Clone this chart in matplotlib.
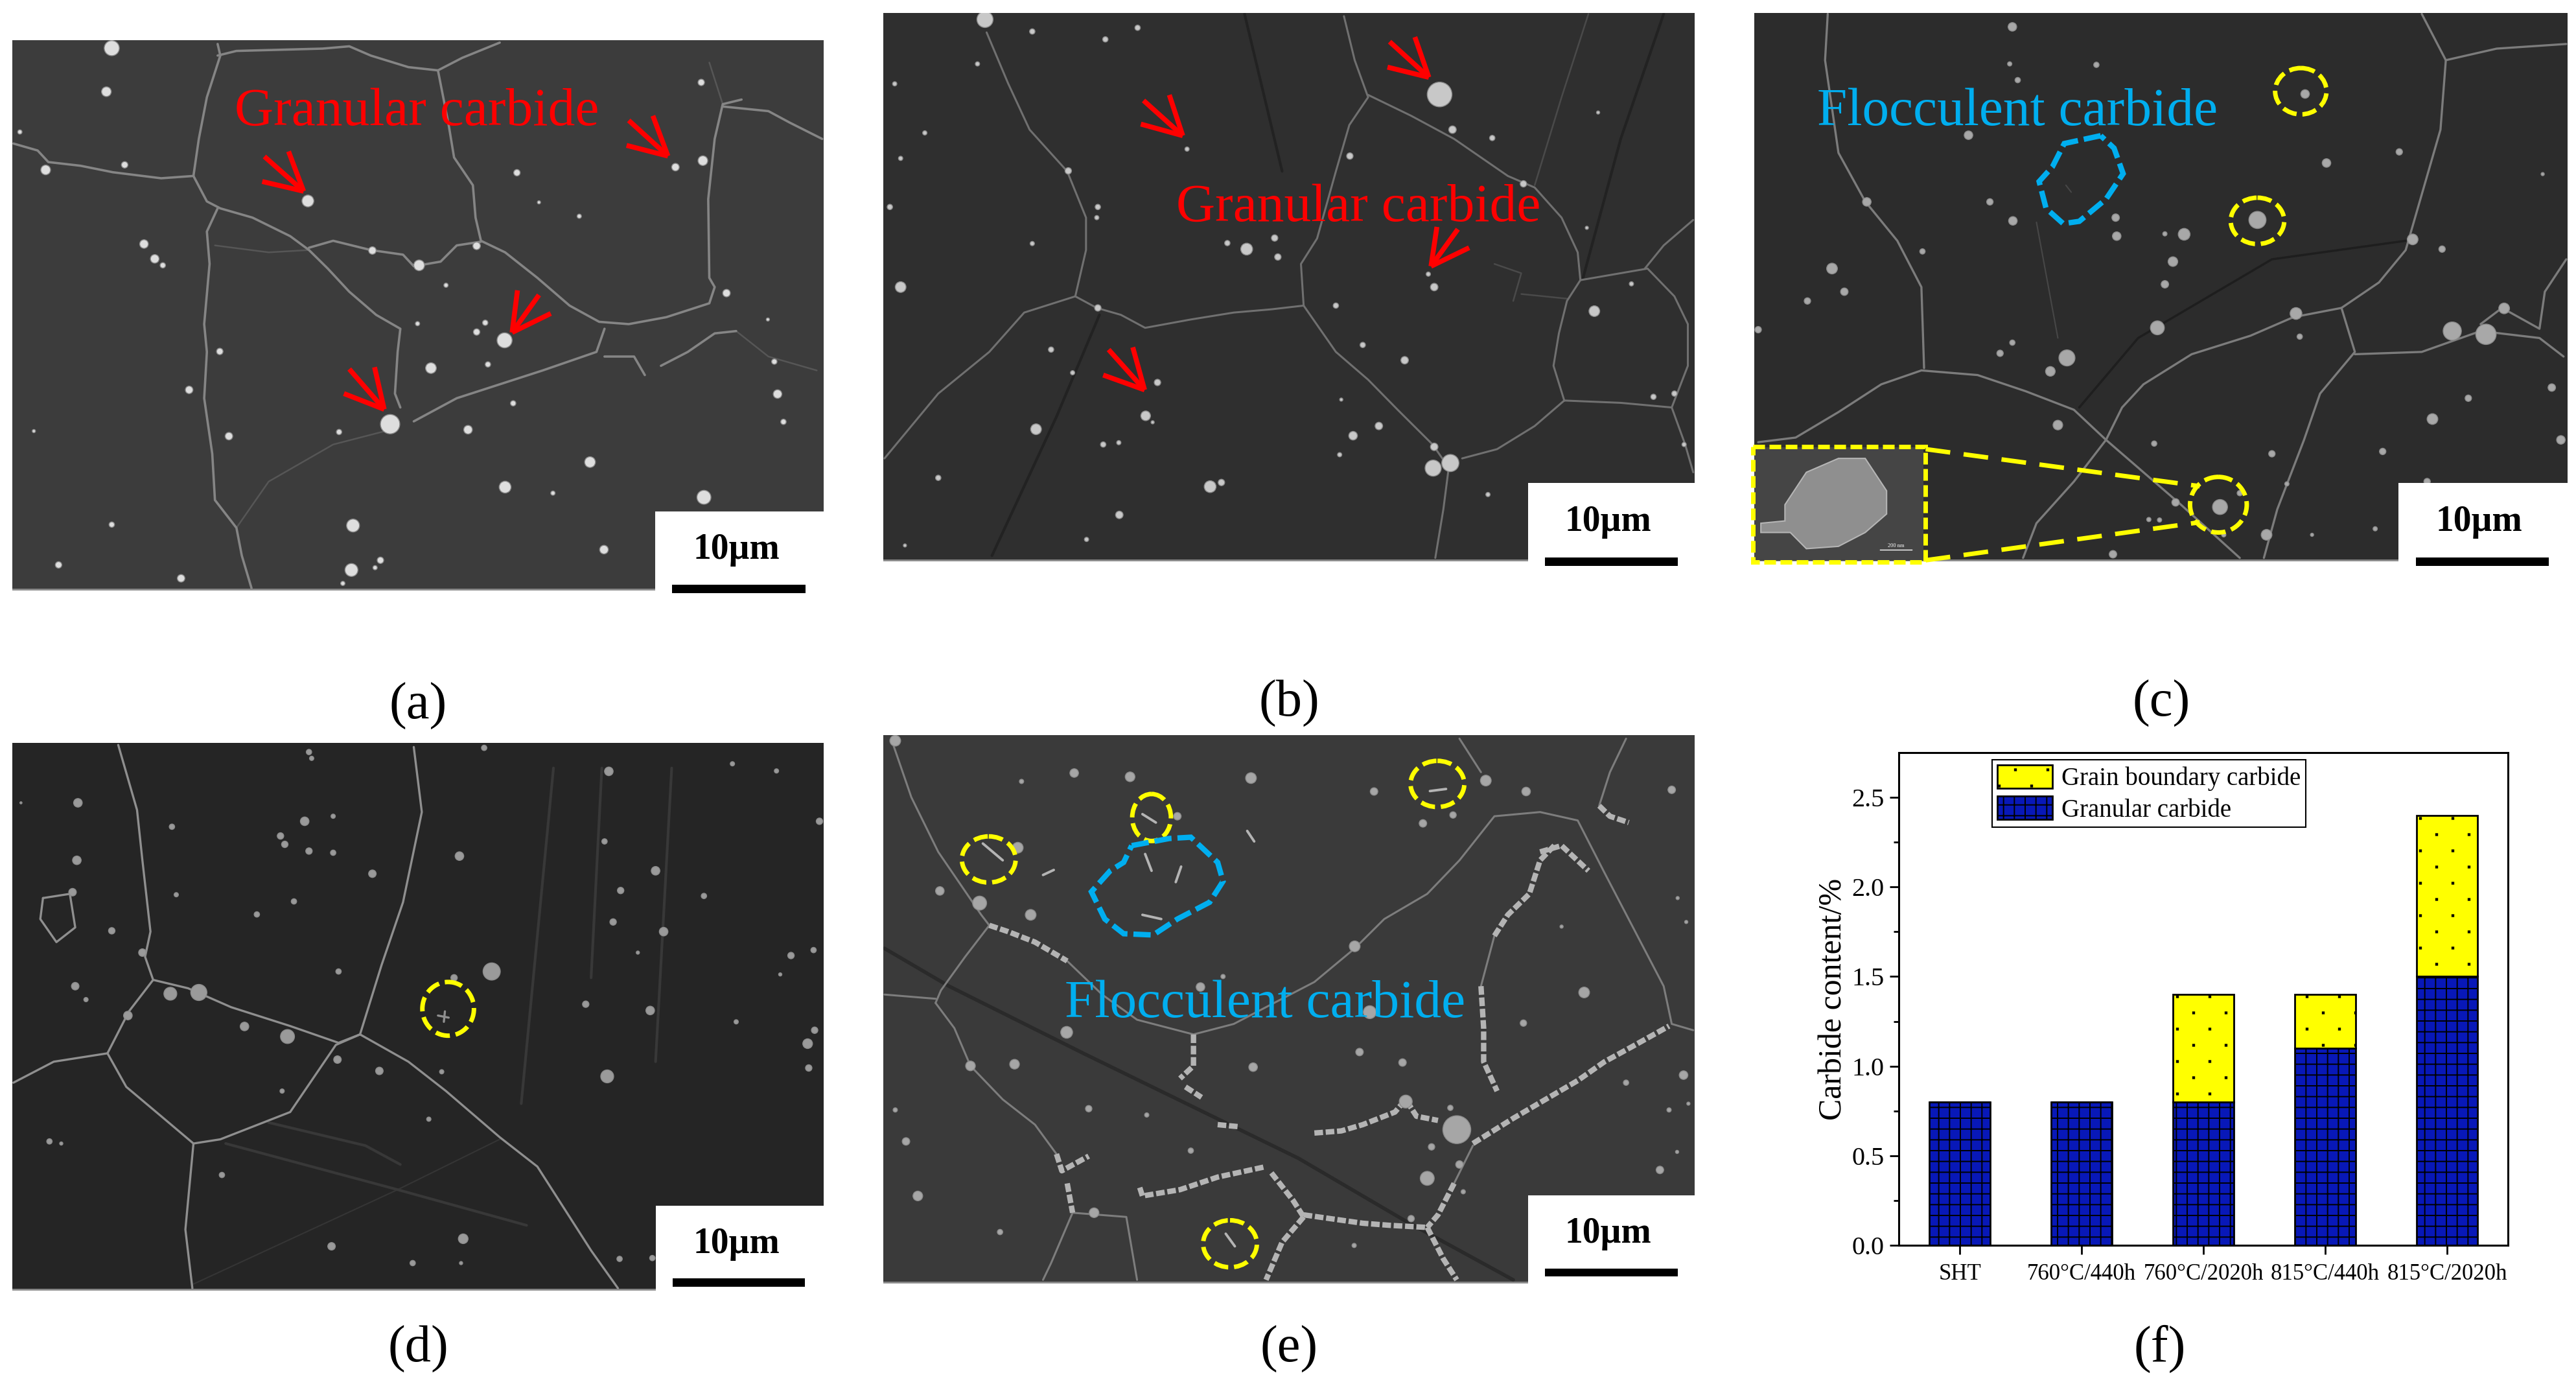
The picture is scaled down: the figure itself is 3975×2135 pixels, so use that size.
import matplotlib
matplotlib.use("Agg")
import numpy as np
import matplotlib.pyplot as plt
import matplotlib.hatch as mhatch
from matplotlib.path import Path
from matplotlib.patches import Rectangle, Ellipse, Polygon, Patch

plt.rcParams["font.family"] = ["Liberation Serif", "DejaVu Serif"]
plt.rcParams["hatch.linewidth"] = 1.4

W, H = 3975, 2135
DPI = 100

# bar chart (f)
conditions = ["SHT", "760°C/440h", "760°C/2020h", "815°C/440h", "815°C/2020h"]
granular = [0.8, 0.8, 0.8, 1.1, 1.5]
grain_boundary = [0.0, 0.0, 0.6, 0.3, 0.9]
y_ticks = [0.0, 0.5, 1.0, 1.5, 2.0, 2.5]

# micrograph traces. (x, y) or (x, y, radius), picture units
a_bright = [
    [(25,310),(70,325),(90,350),(150,358),(210,372),(300,385),(360,380),(385,435),(410,450),(470,470),(540,510),(575,540),(610,580),(650,630),(700,680),(745,710),(740,760),(735,850),(745,880)],
    [(405,95),(410,120),(385,210),(370,300),(360,380)],
    [(405,120),(440,110),(600,105),(650,100),(690,120),(760,145),(815,152),(860,125),(930,92)],
    [(815,152),(835,270),(845,340),(880,400),(885,470),(895,520),(940,545),(1000,600),(1060,660),(1115,695),(1170,700),(1240,685),(1320,655),(1330,620),(1320,600),(1318,430),(1330,300),(1345,225),(1380,215)],
    [(1345,230),(1430,240),(1470,265),(1530,300)],
    [(575,535),(620,520),(690,540),(750,550),(770,575),(820,565),(850,530),(895,522)],
    [(405,450),(385,500),(390,570),(380,700),(385,760),(380,860),(395,980),(400,1080),(440,1140),(450,1200),(468,1270)],
    [(770,910),(850,860),(930,830),(1010,800),(1110,760),(1125,710)],
    [(1125,770),(1180,770),(1200,810)],
    [(1230,790),(1280,760),(1330,720),(1370,715)],
]
a_faint = [
    [(1320,135),(1345,225)],
    [(1370,715),(1430,770),(1520,800)],
    [(400,530),(500,545),(575,540)],
    [(440,1140),(500,1040),(620,960),(720,930)],
]
a_particles = [
    (208,104,14),(198,198,9),(85,367,9),(232,356,6),(37,285,4),(573,434,11),(1257,361,7),(1308,347,9),(1305,178,6),
    (962,373,6),(1003,437,3),(1078,467,4),(268,527,8),(288,559,8),(303,573,5),(780,573,10),(693,541,7),(887,531,7),
    (830,616,4),(903,697,5),(887,717,6),(939,735,14),(908,787,5),(802,795,10),(777,699,4),(409,759,6),(352,842,7),
    (426,942,7),(63,931,3),(631,933,5),(726,916,18),(871,928,8),(955,871,5),(1098,998,10),(940,1052,11),(1029,1065,4),
    (1310,1074,13),(1447,851,8),(1458,911,5),(1441,781,5),(1429,690,3),(1352,633,7),(657,1135,12),(654,1231,12),
    (708,1210,6),(698,1226,4),(1124,1187,8),(208,1133,5),(109,1220,6),(337,1249,7),(638,1260,4),
]
# tip, tail, barb, barb
a_arrows = [
    [(565,413),(492,338),(537,327),(488,392)],
    [(1243,337),(1170,260),(1215,250),(1166,314)],
    [(953,718),(1003,637),(963,627),(1025,677)],
    [(715,884),(650,797),(697,793),(640,850)],
]

b_bright = [
    [(220,70),(260,180),(300,280),(370,370),(405,470),(405,540),(385,640),(425,665),(470,680),(515,708),(600,690),(680,675),(750,668),(810,660),(805,570),(835,515),(870,370),(895,270),(930,210),(905,130),(885,35)],
    [(930,205),(1010,250),(1090,300),(1190,380),(1240,405),(1290,470),(1320,545),(1325,605)],
    [(810,660),(870,760),(930,820),(985,885),(1050,960),(1080,1010),(1070,1100),(1055,1205)],
    [(1105,990),(1170,970),(1240,920),(1295,865),(1275,790),(1285,720),(1300,650),(1325,605),(1450,580),(1500,640),(1525,700),(1525,790),(1495,880),(1400,870),(1295,865)],
    [(385,640),(290,675),(225,760),(130,850),(80,920),(30,990)],
    [(1445,580),(1480,530),(1535,475)],
    [(1495,880),(1520,960),(1535,1020)],
]
b_faint = [
    [(1165,570),(1215,590),(1200,650)],
    [(1215,635),(1300,645)],
    [(1340,30),(1290,210),(1240,400)],
]
b_dark = [
    [(1480,30),(1400,300),(1330,600)],
    [(700,30),(770,370)],
    [(430,680),(350,900),(230,1200)],
]
b_particles = [
    (217,42,15),(305,68,5),(441,85,5),(501,60,5),(203,138,4),(49,181,4),(105,287,4),(60,342,4),(372,369,6),(40,447,5),
    (427,447,5),(425,470,4),(305,526,4),(60,620,10),(593,322,4),(704,538,11),(756,514,6),(762,555,6),(668,525,5),
    (1063,204,23),(1087,280,7),(1161,298,5),(896,337,6),(1219,397,6),(1042,592,4),(1053,620,7),(870,660,5),(920,745,5),
    (998,778,7),(1351,672,10),(1358,243,3),(1337,492,3),(427,665,6),(340,755,5),(380,805,4),(538,826,6),(516,898,9),
    (529,912,3),(312,927,10),(437,960,5),(466,956,4),(902,941,8),(950,920,7),(880,863,3),(877,982,4),(1051,1011,15),
    (1083,1000,16),(1053,965,7),(636,1051,11),(657,1042,6),(130,1032,5),(467,1112,7),(406,1165,4),(68,1178,3),
    (1153,1068,4),(1461,857,5),(1500,850,5),(1518,960,4),(1420,613,4),
]
b_arrows = [
    [(585,293),(512,217),(560,205),(507,268)],
    [(1043,167),(970,90),(1017,80),(966,145)],
    [(1047,575),(1097,495),(1058,490),(1118,535)],
    [(514,842),(447,755),(492,750),(437,810)],
]

c_bright = [
    [(170,30),(165,130),(190,330),(240,435),(300,520),(345,620),(350,795)],
    [(345,800),(270,830),(190,890),(110,945),(40,955)],
    [(345,800),(450,810),(540,845),(630,885),(690,950),(760,1020),(830,1090),(940,1205)],
    [(690,950),(630,1040),(560,1130),(535,1205)],
    [(690,950),(720,880),(760,830),(850,765),(960,725),(1040,685),(1130,665),(1200,610),(1250,540),(1285,400),(1315,280),(1325,130),(1280,30)],
    [(1325,130),(1420,105),(1550,95)],
    [(1130,665),(1155,760),(1090,850),(1060,950),(1010,1100),(985,1205)],
    [(1155,765),(1280,760),(1390,715),(1500,730),(1545,770)],
    [(1390,700),(1430,665),(1500,710),(1510,630),(1550,560)],
]
c_faint = [[(560,480),(600,730)], [(615,400),(625,415)]]
c_dark = [[(640,880),(750,730),(1000,560),(1250,520)]]
c_particles = [
    (515,58,8),(672,140,5),(525,173,5),(510,138,4),(1062,203,8),(433,292,8),(1102,352,8),(973,475,16),(1238,328,6),
    (1506,376,3),(243,436,8),(473,436,6),(516,477,8),(708,470,7),(710,510,8),(836,506,11),(800,505,4),(815,565,9),
    (800,614,7),(1263,517,10),(1318,538,6),(178,580,10),(201,630,7),(132,650,6),(347,543,5),(40,712,6),(786,708,13),
    (515,740,5),(492,763,6),(617,773,15),(586,802,9),(1045,677,11),(1337,715,17),(1400,722,19),(1434,666,10),(1052,727,5),
    (1523,837,7),(1367,860,6),(1300,905,10),(600,918,9),(780,958,5),(1000,980,6),(1207,975,6),(1540,950,8),(903,1095,14),
    (940,1065,5),(770,1122,4),(790,1123,4),(703,1197,7),(1290,1040,6),(1028,1045,4),(1193,1142,4),(1075,1155,3),
    (990,1155,10),(820,1085,7),(910,1155,4),
]
c_circles = [(1054,197,48,50),(973,477,50,50),(900,1090,53,60)]
c_region = [(680,293),(612,310),(590,360),(565,392),(578,450),(610,483),(640,478),(690,430),(722,375),(705,320)]
c_inset_blob = [(90,1090),(130,1020),(190,990),(240,990),(280,1060),(280,1110),(240,1150),(190,1180),(130,1185),(100,1150),(45,1150),(45,1130),(90,1125)]
c_zoom_lines = [[(353,970),(865,1050)],[(353,1210),(865,1128)]]

d_bright = [
    [(220,45),(255,200),(265,320),(280,490),(270,550),(285,605),(240,680),(200,780)],
    [(25,850),(100,800),(200,780),(235,860),(300,930),(360,995),(410,985),(500,940),(540,920),(625,760),(670,735)],
    [(285,605),(350,625),(430,670),(540,715),(630,755),(670,735),(710,570),(750,420),(785,205),(770,50)],
    [(670,735),(760,800),(830,870),(930,980),(1000,1050),(1060,1170),(1100,1250),(1150,1340)],
    [(360,995),(345,1200),(358,1340)],
    [(80,410),(130,400),(140,480),(105,515),(75,460),(80,410)],
    [(815,690),(835,695)],
    [(828,680),(826,705)],
]
d_faint = [
    [(420,995),(740,1105),(980,1190)],
    [(1030,100),(1000,500),(970,900)],
    [(1120,100),(1100,600)],
    [(1250,100),(1220,800)],
    [(500,945),(680,1000),(745,1045)],
]
d_dark = [[(740,1105),(930,985)],[(740,1105),(360,1330)]]
d_particles = [
    (145,183,8),(143,320,8),(135,396,7),(208,488,6),(265,540,7),(39,183,2),(320,240,5),(567,227,8),(620,215,4),(522,262,6),
    (530,282,6),(575,298,6),(620,302,5),(693,352,7),(547,418,5),(478,449,5),(328,402,4),(855,310,8),(1133,108,8),(1125,275,5),
    (1220,345,8),(1155,392,6),(1141,467,6),(1235,490,8),(1310,405,5),(1363,90,4),(1445,107,4),(1525,227,6),(1187,540,3),
    (1472,547,6),(1514,534,5),(1452,592,3),(630,585,5),(915,585,16),(845,600,6),(370,635,15),(317,638,12),(140,620,7),
    (160,652,4),(238,690,8),(455,716,8),(535,740,13),(628,795,7),(706,822,7),(822,824,4),(525,870,4),(798,937,4),(1090,663,6),
    (1210,678,8),(1370,705,4),(1516,725,6),(1503,757,9),(1505,815,6),(1130,835,12),(92,990,5),(114,995,3),(413,1070,5),
    (617,1240,7),(768,1280,5),(862,1222,9),(858,1280,3),(1153,1270,5),(1214,1268,5),(901,52,5),(575,62,5),(580,77,4),
]
d_circles = [(834,674,48,64)]

e_thick = [
    [(225,475),(260,490),(310,515),(370,560)],
    [(1165,500),(1190,450),(1230,400),(1250,320),(1280,280)],
    [(1360,190),(1380,215),(1415,230)],
    [(1125,995),(1200,935),(1240,905),(1320,845),(1370,800),(1420,765),(1490,715)],
    [(1140,620),(1145,720),(1145,800),(1170,870)],
    [(350,1020),(360,1060),(410,1025)],
    [(505,1100),(510,1120),(580,1105),(650,1075),(740,1050)],
    [(750,1065),(790,1130),(810,1170)],
    [(830,970),(880,965),(920,950),(980,920),(1000,890),(1020,930),(1060,940)],
    [(605,735),(605,810),(580,840)],
    [(590,860),(620,885)],
    [(650,950),(690,955)],
    [(810,1165),(920,1185),(970,1190),(1040,1195)],
    [(1040,1195),(1070,1270),(1095,1320)],
    [(810,1170),(770,1230),(740,1320)],
    [(1090,1090),(1060,1165),(1040,1195)],
    [(370,1090),(380,1160)],
    [(1250,300),(1290,285),(1340,345)],
]
e_bright = [
    [(45,40),(80,170),(130,300),(210,450),(225,475)],
    [(225,475),(180,550),(135,630),(125,660)],
    [(370,560),(435,640),(500,700),(605,735),(680,710),(830,610),(905,530),(960,460),(1040,400),(1100,320),(1165,215),(1250,205),(1320,225),(1370,350),(1480,620),(1495,710),(1535,725)],
    [(1165,500),(1140,620)],
    [(125,660),(160,720),(190,810),(250,890),(310,950),(350,1020)],
    [(30,640),(125,650)],
    [(380,1160),(340,1280),(325,1320)],
    [(380,1160),(480,1170),(500,1320)],
    [(1125,1000),(1090,1090)],
    [(1410,30),(1380,110),(1360,190)],
    [(1100,30),(1140,110)],
]
e_streaks = [
    [(515,305),(527,345)],[(582,335),(572,372)],[(510,450),(545,460)],
    [(213,280),(250,320)],[(510,210),(535,230)],[(1045,155),(1075,150)],
    [(665,1210),(682,1240)],[(325,355),(345,343)],[(705,250),(718,275)],
]
e_dark = [[(30,530),(150,620),(400,780),(800,1030),(1000,1180),(1200,1320)]]
e_particles = [
    (50,35,10),(383,112,8),(487,121,9),(712,124,10),(285,132,4),(941,156,7),(1149,130,10),(1224,156,8),(1495,152,7),
    (575,215,7),(278,290,10),(1088,212,6),(1032,232,7),(133,393,8),(207,422,13),(302,450,10),(1506,410,3),(1522,467,3),
    (1290,478,3),(905,525,10),(618,622,8),(660,597,4),(1332,635,10),(933,682,12),(369,730,11),(1219,708,6),(914,777,7),
    (994,802,7),(716,813,8),(190,810,9),(272,806,9),(1517,832,8),(1410,850,5),(410,912,6),(518,927,4),(50,915,4),(70,990,7),
    (1083,910,5),(1490,915,4),(1526,900,3),(1040,1078,13),(1100,1045,7),(1048,1003,6),(600,1012,5),(92,1120,9),(245,1206,5),
    (1010,1174,6),(904,1238,4),(1473,1058,7),(1505,1015,3),(420,1160,9),(1107,1110,4),(1095,962,26),(1000,895,12),
]
e_circles = [(224,318,50,55),(527,218,36,56),(1059,138,50,55),(673,1234,50,56)]
e_region = [(490,285),(560,268),(600,265),(650,325),(660,370),(635,420),(575,460),(530,498),(475,495),(440,460),(415,395),(450,345),(475,325)]


class SparseDots(mhatch.HatchPatternBase):
    # the default '.' hatch is far too dense, this one matches the sparse square dots
    filled = True
    spots = [(0.1, 0.125), (0.6, 0.125), (0.35, 0.375), (0.85, 0.375),
             (0.1, 0.625), (0.6, 0.625), (0.35, 0.875), (0.85, 0.875)]

    def __init__(self, hatch, density):
        self.num_vertices = 5 * len(self.spots) if "." in hatch else 0

    def set_vertices_and_codes(self, vertices, codes):
        s = 0.012
        for i, (x, y) in enumerate(self.spots):
            vertices[5 * i:5 * i + 5] = [(x - s, y - s), (x + s, y - s), (x + s, y + s),
                                         (x - s, y + s), (x - s, y - s)]
            codes[5 * i:5 * i + 5] = [Path.MOVETO, Path.LINETO, Path.LINETO, Path.LINETO, Path.CLOSEPOLY]


mhatch._hatch_types[mhatch._hatch_types.index(mhatch.SmallFilledCircles)] = SparseDots

fig = plt.figure(figsize=(W / DPI, H / DPI), dpi=DPI, facecolor="white")


def panel_axes(ox, oy, sx, sy, x0, x1, y0, y1):
    left, right = ox + x0 / sx, ox + x1 / sx
    top, bottom = oy + y0 / sy, oy + y1 / sy
    ax = fig.add_axes([left / W, 1 - bottom / H, (right - left) / W, (bottom - top) / H])
    ax.set_xlim(x0, x1)
    ax.set_ylim(y1, y0)
    ax.axis("off")
    return ax


def draw_lines(ax, lines, color, lw, **kw):
    for line in lines:
        pts = np.array(line)
        ax.plot(pts[:, 0], pts[:, 1], color=color, lw=lw, solid_capstyle="round", zorder=2, **kw)


def draw_particles(ax, particles, sx, color):
    pts = np.array(particles, dtype=float)
    d = 2 * pts[:, 2] / sx * 72 / DPI
    ax.scatter(pts[:, 0], pts[:, 1], s=d ** 2, color=color, edgecolors="#8c8c8c", linewidths=1, zorder=3)


def draw_arrows(ax, arrows):
    for tip, tail, b1, b2 in arrows:
        for start in (tail, b1, b2):
            ax.plot([start[0], tip[0]], [start[1], tip[1]], color=RED, lw=5.5,
                    solid_capstyle="butt", zorder=5)


def draw_circles(ax, circles):
    for x, y, rx, ry in circles:
        ax.add_patch(Ellipse((x, y), 2 * rx, 2 * ry, fill=False, ec="#ffff00", lw=5,
                             ls=(0, (3.2, 1.3)), zorder=6))


def scale_bar(ax, box, bar, text_xy):
    x0, x1, y0, y1 = box
    ax.add_patch(Rectangle((x0, y0), x1 - x0, y1 - y0, fc="white", ec="none", zorder=7))
    x0, x1, y0, y1 = bar
    ax.add_patch(Rectangle((x0, y0), x1 - x0, y1 - y0, fc="black", ec="none", zorder=8))
    ax.text(text_xy[0], text_xy[1] + 2, "10µm", fontsize=40, fontweight="bold", ha="center", va="center", zorder=8)


def background(ax, x0, x1, y0, y1, color):
    ax.add_patch(Rectangle((x0, y0), x1 - x0, y1 - y0, fc=color, ec="none", zorder=1))
    ax.plot([x0, x1], [y1, y1], color="#8a8a8a", lw=2, zorder=2)


RED = "#ff0000"
CYAN = "#00aeef"

# (a)
sx, sy = 1.206, 1.4
ax = panel_axes(0, 0, sx, sy, 23, 1533, 87, 1282)
background(ax, 23, 1533, 87, 1272, "#3c3c3c")
draw_lines(ax, a_faint, "#565656", 1.8)
draw_lines(ax, a_bright, "#858585", 2.6)
draw_particles(ax, a_particles, sx, "#dedede")
draw_arrows(ax, a_arrows)
ax.text(437, 242, "Granular carbide", color=RED, fontsize=60, ha="left", va="center", zorder=6)
scale_bar(ax, (1219, 1533, 1105, 1282), (1251, 1499, 1263, 1281), (1370, 1185))

# (b)
ax = panel_axes(1340, 0, sx, sy, 28, 1538, 28, 1224)
background(ax, 28, 1538, 28, 1210, "#2f2f2f")
draw_lines(ax, b_dark, "#222222", 3)
draw_lines(ax, b_faint, "#4a4a4a", 1.8)
draw_lines(ax, b_bright, "#707070", 2.2)
draw_particles(ax, b_particles, sx, "#c8c8c8")
draw_arrows(ax, b_arrows)
ax.text(573, 450, "Granular carbide", color=RED, fontsize=60, ha="left", va="center", zorder=6)
scale_bar(ax, (1228, 1538, 1043, 1224), (1259, 1506, 1204, 1222), (1377, 1125))

# (c)
sx_c = 1.211
ax = panel_axes(2680, 0, sx_c, sy, 25, 1552, 28, 1224)
background(ax, 33, 1552, 28, 1210, "#2c2c2c")
draw_lines(ax, c_dark, "#1e1e1e", 2.5)
draw_lines(ax, c_faint, "#474747", 1.5)
draw_lines(ax, c_bright, "#7c7c7c", 2.4)
draw_particles(ax, c_particles, sx_c, "#a8a8a8")
draw_circles(ax, c_circles)
ax.add_patch(Polygon(c_region, closed=True, fill=False, ec=CYAN, lw=6, ls=(0, (3.2, 1.1)), zorder=6))
ax.text(150, 242, "Flocculent carbide", color=CYAN, fontsize=60, ha="left", va="center", zorder=6)
ax.add_patch(Rectangle((33, 966), 316, 245, fc="#454545", ec="none", zorder=6))
ax.add_patch(Polygon(c_inset_blob, closed=True, fc="#8f8f8f", ec="#b5b5b5", lw=1.5, zorder=7))
ax.plot([268, 327], [1187, 1187], color="white", lw=1, zorder=7)
ax.text(297, 1179, "200 nm", color="white", fontsize=6, ha="center", va="center", zorder=7)
ax.add_patch(Rectangle((30, 964), 322, 250, fill=False, ec="#ffff00", lw=5, ls=(0, (2.6, 1)), zorder=8))
draw_lines(ax, c_zoom_lines, "#ffff00", 5, ls=(0, (5.5, 3)))
scale_bar(ax, (1237, 1552, 1043, 1224), (1269, 1517, 1204, 1222), (1387, 1125))

# (d)
sy2 = 1.545
ax = panel_axes(0, 1120, sx, sy2, 23, 1533, 40, 1345)
background(ax, 23, 1533, 40, 1343, "#252525")
draw_lines(ax, d_dark, "#353535", 1.5)
draw_lines(ax, d_faint, "#383838", 3)
draw_lines(ax, d_bright, "#8f8f8f", 2.4)
draw_particles(ax, d_particles, sx, "#9a9a9a")
draw_circles(ax, d_circles)
scale_bar(ax, (1221, 1533, 1143, 1345), (1252, 1498, 1317, 1336), (1370, 1232))

# (e)
ax = panel_axes(1340, 1120, sx, sy2, 28, 1538, 22, 1330)
background(ax, 28, 1538, 22, 1326, "#3a3a3a")
draw_lines(ax, e_dark, "#2a2a2a", 4)
draw_lines(ax, e_bright, "#7d7d7d", 2.2)
draw_lines(ax, e_thick, "#b4b4b4", 6, ls=(0, (1.6, 0.5)))
draw_lines(ax, e_streaks, "#b4b4b4", 2.8)
draw_particles(ax, e_particles, sx, "#a6a6a6")
draw_circles(ax, e_circles)
ax.add_patch(Polygon(e_region, closed=True, fill=False, ec=CYAN, lw=6, ls=(0, (3.2, 1.1)), zorder=6))
ax.text(365, 663, "Flocculent carbide", color=CYAN, fontsize=60, ha="left", va="center", zorder=6)
scale_bar(ax, (1228, 1538, 1118, 1330), (1259, 1506, 1293, 1312), (1377, 1208))

# (f) stacked bars
ax = fig.add_axes([2930 / W, 1 - 1921 / H, 940 / W, 760 / H])
x = np.arange(1, len(conditions) + 1)
ax.bar(x, granular, width=0.5, color="#0818b8", edgecolor="black", linewidth=2, hatch="+",
       label="Granular carbide")
ax.bar(x, grain_boundary, width=0.5, bottom=granular, color="#ffff00", edgecolor="black", linewidth=2,
       hatch=".", label="Grain boundary carbide")
ax.set_xlim(0.5, 5.5)
ax.set_ylim(0, 2.75)
ax.set_xticks(x, conditions, fontsize=25)
ax.set_yticks(y_ticks, [f"{v:.1f}" for v in y_ticks], fontsize=29)
ax.set_yticks(np.arange(0.25, 2.75, 0.5), minor=True)
ax.tick_params(axis="both", which="major", length=10, width=2)
ax.tick_params(axis="y", which="minor", length=6, width=2)
ax.tick_params(axis="x", pad=10)
ax.tick_params(axis="y", pad=6)
ax.set_ylabel("Carbide content/%", fontsize=36)
ax.yaxis.set_label_coords(-0.083, 0.5)
for spine in ax.spines.values():
    spine.set_linewidth(2.2)
handles = [Patch(fc="#ffff00", ec="black", lw=2, hatch="."), Patch(fc="#0818b8", ec="black", lw=2, hatch="+")]
ax.legend(handles, ["Grain boundary carbide", "Granular carbide"], loc="upper left",
          bbox_to_anchor=(0.153, 0.985), borderaxespad=0, fontsize=28, fancybox=False, framealpha=1,
          edgecolor="black", handlelength=2.2, handleheight=1.05, handletextpad=0.35, labelspacing=0.2,
          borderpad=0.2).get_frame().set_linewidth(1.5)

# panel labels
labels = [("(a)", 645, 1089), ("(b)", 1989, 1085), ("(c)", 3335, 1085),
          ("(d)", 645, 2081), ("(e)", 1989, 2081), ("(f)", 3333, 2081)]
for text, px, py in labels:
    fig.text(px / W, 1 - py / H, text, fontsize=58, ha="center", va="center")

fig.savefig("out.png", dpi=DPI)
